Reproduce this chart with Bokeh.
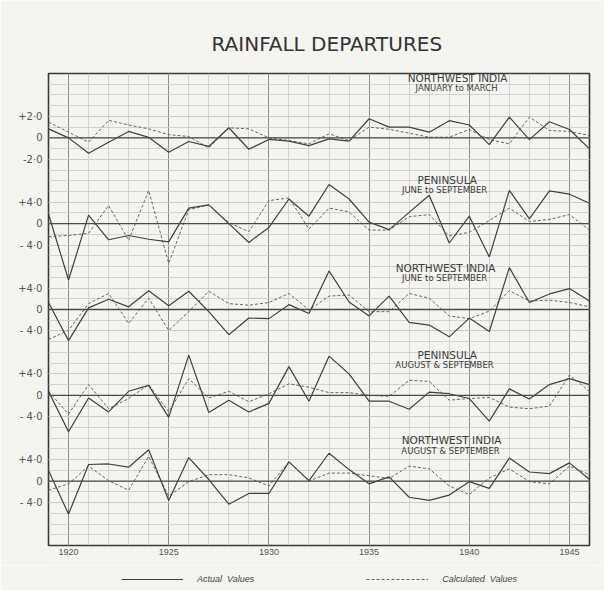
from bokeh.plotting import figure
from bokeh.models import Range1d, FixedTicker, Span, Label, Legend, LegendItem
from bokeh.layouts import column
from bokeh.embed import file_html
from bokeh.resources import INLINE

# ---------------- data ----------------
years = list(range(1919, 1947))
label_years = [1920, 1925, 1930, 1935, 1940, 1945]

nw_janmar_actual = [0.84, 0.0, -1.44, -0.4, 0.6, 0.05, -1.34, -0.34, -0.8, 0.94, -1.06, -0.15, -0.3, -0.72,
                    -0.1, -0.3, 1.78, 1.0, 1.0, 0.53, 1.6, 1.2, -0.63, 1.94, -0.16, 1.5, 0.78, -1.03]
nw_janmar_calc = [1.47, 0.53, -0.4, 1.63, 1.2, 0.84, 0.3, 0.13, -0.94, 0.94, 0.84, 0.0, -0.25, -0.56,
                  0.38, -0.25, 1.0, 0.8, 0.44, 0.06, 0.06, 0.78, -0.16, -0.56, 1.94, 0.69, 0.6, 0.22]

pen_junsep_actual = [1.8, -10.5, 1.6, -3.0, -2.2, -2.9, -3.4, 2.9, 3.5, 0.0, -3.5, -0.7, 4.6, 1.4,
                     7.3, 4.6, 0.3, -1.1, 2.1, 5.3, -3.6, 1.4, -6.2, 6.2, 0.9, 6.1, 5.5, 3.8]
pen_junsep_calc = [-2.4, -2.2, -1.8, 3.4, -3.1, 6.2, -7.4, 2.6, 3.5, 0.2, -1.5, 4.3, 4.8, -1.0,
                   2.9, 2.2, -1.2, -1.2, 1.3, 1.7, -2.3, -1.6, 0.6, 2.9, 0.4, 0.8, 1.7, -1.2]

nw_junsep_actual = [1.3, -5.8, 0.3, 1.9, 0.5, 3.5, 0.7, 3.4, -0.4, -4.7, -1.6, -1.7, 0.9, -0.75,
                    7.2, 1.4, -1.2, 2.5, -2.4, -2.9, -5.1, -1.6, -4.1, 7.8, 1.3, 2.9, 3.9, 1.6]
nw_junsep_calc = [-5.6, -3.9, 1.1, 3.0, -2.6, 2.1, -3.9, -0.4, 3.4, 1.1, 0.8, 1.3, 3.0, -0.1,
                  2.5, 2.7, -0.4, -0.4, 3.0, 2.1, -1.2, -1.7, -0.3, 3.5, 1.6, 1.75, 1.3, 0.5]

pen_augsep_actual = [0.75, -6.8, -0.5, -3.1, 0.75, 1.85, -4.1, 7.5, -3.2, -0.9, -3.1, -1.5, 5.35, -1.1,
                     7.3, 4.0, -1.1, -1.1, -2.6, 0.6, 0.3, -0.6, -4.8, 1.2, -0.7, 2.0, 3.1, 2.0]
pen_augsep_calc = [0.75, -3.5, 2.0, -2.5, -0.6, 2.0, -3.1, 3.1, -0.5, 0.75, -1.2, 0.3, 2.15, 1.5,
                   0.5, 0.5, 0.0, -0.2, 2.8, 2.6, -0.9, -0.6, -0.4, -2.2, -2.5, -2.0, 3.8, 0.75]

nw_augsep_actual = [2.0, -6.15, 3.1, 3.2, 2.6, 5.85, -3.6, 4.4, 0.3, -4.3, -2.3, -2.3, 3.6, 0.1,
                    5.2, 2.15, -0.5, 0.8, -3.0, -3.6, -2.6, -0.1, -1.35, 4.3, 1.7, 1.4, 3.4, 0.3]
nw_augsep_calc = [-1.7, -0.5, 2.8, 0.1, -1.7, 4.6, -2.8, -0.1, 1.2, 1.2, 0.6, -0.9, 3.6, 0.0,
                  1.5, 1.5, 1.0, 0.5, 2.8, 2.3, -0.9, -2.5, 0.6, 2.3, -0.1, -0.5, 2.8, 1.2]

panel_names = ["NORTHWEST  INDIA", "PENINSULA", "NORTHWEST  INDIA", "PENINSULA", "NORTHWEST  INDIA"]
panel_seasons = ["JANUARY  to  MARCH", "JUNE  to  SEPTEMBER", "JUNE  to  SEPTEMBER",
                 "AUGUST  &  SEPTEMBER", "AUGUST  &  SEPTEMBER"]
panel_actual = [nw_janmar_actual, pen_junsep_actual, nw_junsep_actual, pen_augsep_actual, nw_augsep_actual]
panel_calc = [nw_janmar_calc, pen_junsep_calc, nw_junsep_calc, pen_augsep_calc, nw_augsep_calc]
panel_tick_values = [[-2.0, 0.0, 2.0], [-4.0, 0.0, 4.0], [-4.0, 0.0, 4.0], [-4.0, 0.0, 4.0], [-4.0, 0.0, 4.0]]
panel_tick_labels = [["-2·0", "0", "+2·0"], ["- 4·0", "0", "+4·0"], ["- 4·0", "0", "+4·0"],
                     ["- 4·0", "0", "+4·0"], ["- 4·0", "0", "+4·0"]]
legend_labels = ["Actual  Values", "Calculated  Values"]

# ---------------- layout (graph-paper rows) ----------------
n_rows = 44
zero_rows = [38, 30, 22, 14, 6]          # row of each panel's zero line, counted from the bottom
units_per_row = [1.0, 2.0, 2.0, 2.0, 2.0]
label_x = [1939.5, 1938.9, 1938.9, 1938.9, 1939.2]
label_row_offset = [5.6, 4.1, 3.9, 3.8, 3.8]

paper = "#f4f4f1"
ink = "#404040"
dash_ink = "#666666"

p = figure(width=604, height=565, output_backend="svg", toolbar_location=None,
           x_range=Range1d(1919, 1946), y_range=Range1d(0, n_rows),
           min_border_left=48, min_border_right=15, min_border_top=73, min_border_bottom=20,
           background_fill_color=paper, border_fill_color=paper)
p.outline_line_color = "#383838"
p.outline_line_width = 1.6

p.title.text = "RAINFALL  DEPARTURES"
p.title.align = "left"
p.title.offset = 163
p.title.standoff = 36
p.title.text_font = "DejaVu Sans"
p.title.text_font_size = "20px"
p.title.text_font_style = "normal"
p.title.text_color = "#333333"

# x axis / vertical grid
p.xaxis.ticker = FixedTicker(ticks=label_years, minor_ticks=years)
p.xaxis.axis_line_color = None
p.xaxis.major_tick_line_color = None
p.xaxis.minor_tick_line_color = None
p.xaxis.major_tick_out = 0
p.xaxis.minor_tick_out = 0
p.xaxis.major_label_standoff = 3
p.xaxis.major_label_text_font = "Liberation Sans Narrow, Liberation Sans"
p.xaxis.major_label_text_font_size = "9px"
p.xaxis.major_label_text_color = "#555555"
p.xgrid.grid_line_color = "#8c8c8c"
p.xgrid.grid_line_width = 1.0
p.xgrid.minor_grid_line_color = "#c9c9c6"
p.xgrid.minor_grid_line_width = 0.8

# y axis / horizontal grid
tick_pos = []
overrides = {}
p.extra_y_ranges = {}
for i in range(5):
    u = units_per_row[i]
    z = zero_rows[i]
    name = "panel%d" % i
    p.extra_y_ranges[name] = Range1d(-z * u, (n_rows - z) * u)
    for tv, tl in zip(panel_tick_values[i], panel_tick_labels[i]):
        pos = int(round(z + tv / u))
        tick_pos.append(pos)
        overrides[pos] = tl

p.yaxis.ticker = FixedTicker(ticks=sorted(tick_pos), minor_ticks=list(range(n_rows + 1)))
p.yaxis.major_label_overrides = overrides
p.yaxis.axis_line_color = None
p.yaxis.major_tick_line_color = None
p.yaxis.minor_tick_line_color = None
p.yaxis.major_tick_out = 0
p.yaxis.minor_tick_out = 0
p.yaxis.major_label_standoff = 6
p.yaxis.major_label_text_font = "DejaVu Sans"
p.yaxis.major_label_text_font_size = "10px"
p.yaxis.major_label_text_color = "#555555"
p.ygrid.grid_line_color = "#c9c9c6"
p.ygrid.grid_line_width = 0.8
p.ygrid.minor_grid_line_color = "#c9c9c6"
p.ygrid.minor_grid_line_width = 0.8

for i in range(5):
    name = "panel%d" % i
    p.add_layout(Span(location=0, dimension="width", y_range_name=name,
                      line_color="#4a4a4a", line_width=1.3))
    p.line(years, panel_calc[i], y_range_name=name, line_color=dash_ink,
           line_width=1.0, line_dash="3 2")
    p.line(years, panel_actual[i], y_range_name=name, line_color=ink, line_width=1.2)
    ly = zero_rows[i] + label_row_offset[i]
    p.add_layout(Label(x=label_x[i], y=ly, text=panel_names[i], text_align="center",
                       text_baseline="middle", text_font="DejaVu Sans", text_font_size="10.5px",
                       text_color="#3c3c3c"))
    p.add_layout(Label(x=label_x[i], y=ly - 0.95, text=panel_seasons[i], text_align="center",
                       text_baseline="middle", text_font="DejaVu Sans", text_font_size="8.5px",
                       text_color="#3c3c3c"))

# ---------------- legend strip below the chart ----------------
lg = figure(width=604, height=25, output_backend="svg", toolbar_location=None,
            x_axis_type=None, y_axis_type=None, x_range=Range1d(0, 1), y_range=Range1d(0, 1),
            min_border=0, background_fill_color=paper, border_fill_color=paper)
lg.outline_line_color = None
lg.grid.visible = False
# key glyphs reuse the first panel's series (they fall outside this strip's ranges)
ra = lg.line(years, nw_janmar_actual, line_color=ink, line_width=1.2)
rc = lg.line(years, nw_janmar_calc, line_color=dash_ink, line_width=1.0, line_dash="3 2")
legend = Legend(items=[LegendItem(label=legend_labels[0], renderers=[ra]),
                       LegendItem(label=legend_labels[1], renderers=[rc])],
                orientation="horizontal", location=(73, 6), glyph_width=62, glyph_height=10,
                label_standoff=14, spacing=112, padding=0, margin=0,
                border_line_color=None, background_fill_alpha=0,
                label_text_font="Liberation Sans", label_text_font_style="italic",
                label_text_font_size="9px", label_text_color="#444444")
lg.add_layout(legend, "center")

open("out.html", "w").write(file_html(column(p, lg, spacing=0), INLINE))
